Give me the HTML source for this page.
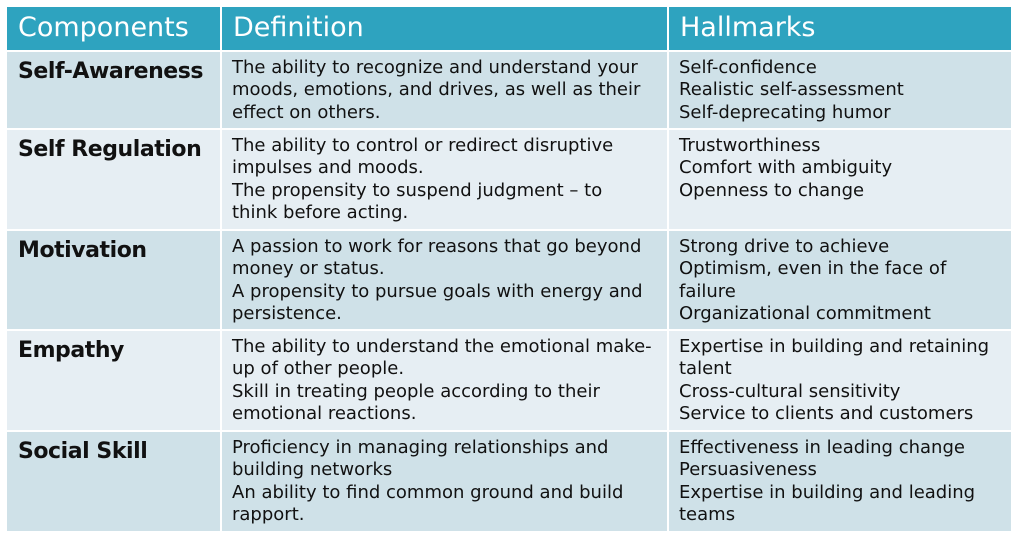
<!DOCTYPE html>
<html><head><meta charset="utf-8"><style>
body{margin:0;width:1023px;height:541px;background:#fff;position:relative;overflow:hidden;font-family:"DejaVu Sans","Liberation Sans",sans-serif;}
.c{position:absolute;box-sizing:border-box;color:#111;}
.h{background:#2ea3bf;color:#fff;font-size:27px;padding:6px 0 0 11px;line-height:30px;}
.a{background:#cfe1e8;}
.b{background:#e6eef3;}
.n{font-weight:bold;font-size:22px;padding:5px 0 0 11px;line-height:30px;letter-spacing:-0.45px;}
.t{font-size:18px;line-height:22.3px;padding:5px 0 0 10px;white-space:nowrap;}
</style></head><body>
<div class="c h" style="left:7px;top:7px;width:213px;height:43px">Components</div>
<div class="c h" style="left:222px;top:7px;width:445px;height:43px">Definition</div>
<div class="c h" style="left:669px;top:7px;width:342px;height:43px">Hallmarks</div>

<div class="c a n" style="left:7px;top:52px;width:213px;height:76px">Self-Awareness</div>
<div class="c a t" style="left:222px;top:52px;width:445px;height:76px">The ability to recognize and understand your<br>moods, emotions, and drives, as well as their<br>effect on others.</div>
<div class="c a t" style="left:669px;top:52px;width:342px;height:76px">Self-confidence<br>Realistic self-assessment<br>Self-deprecating humor</div>

<div class="c b n" style="left:7px;top:130px;width:213px;height:99px">Self Regulation</div>
<div class="c b t" style="left:222px;top:130px;width:445px;height:99px">The ability to control or redirect disruptive<br>impulses and moods.<br>The propensity to suspend judgment – to<br>think before acting.</div>
<div class="c b t" style="left:669px;top:130px;width:342px;height:99px">Trustworthiness<br>Comfort with ambiguity<br>Openness to change</div>

<div class="c a n" style="left:7px;top:231px;width:213px;height:98px">Motivation</div>
<div class="c a t" style="left:222px;top:231px;width:445px;height:98px">A passion to work for reasons that go beyond<br>money or status.<br>A propensity to pursue goals with energy and<br>persistence.</div>
<div class="c a t" style="left:669px;top:231px;width:342px;height:98px">Strong drive to achieve<br>Optimism, even in the face of<br>failure<br>Organizational commitment</div>

<div class="c b n" style="left:7px;top:331px;width:213px;height:99px">Empathy</div>
<div class="c b t" style="left:222px;top:331px;width:445px;height:99px">The ability to understand the emotional make-<br>up of other people.<br>Skill in treating people according to their<br>emotional reactions.</div>
<div class="c b t" style="left:669px;top:331px;width:342px;height:99px">Expertise in building and retaining<br>talent<br>Cross-cultural sensitivity<br>Service to clients and customers</div>

<div class="c a n" style="left:7px;top:432px;width:213px;height:99px">Social Skill</div>
<div class="c a t" style="left:222px;top:432px;width:445px;height:99px">Proficiency in managing relationships and<br>building networks<br>An ability to find common ground and build<br>rapport.</div>
<div class="c a t" style="left:669px;top:432px;width:342px;height:99px">Effectiveness in leading change<br>Persuasiveness<br>Expertise in building and leading<br>teams</div>
</body></html>
